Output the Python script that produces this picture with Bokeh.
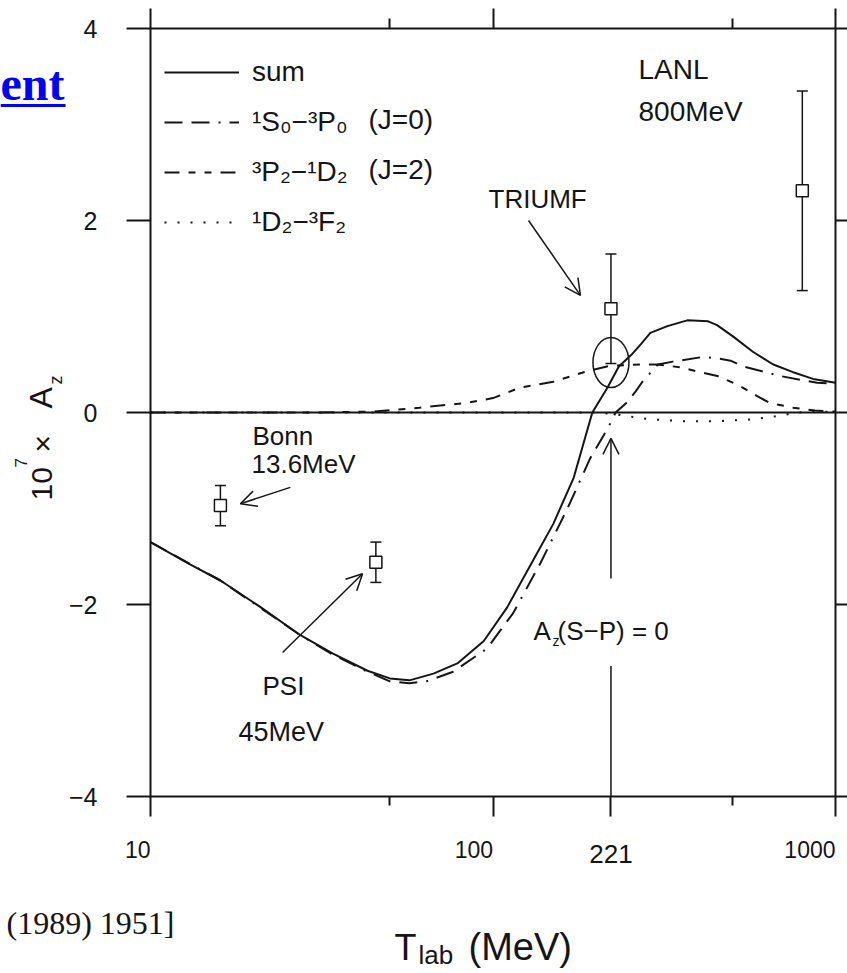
import math
from bokeh.plotting import figure
from bokeh.models import (Range1d, LogAxis, LinearAxis, FixedTicker, Label, Arrow, OpenHead,
                          Whisker, TeeHead, ColumnDataSource, Legend, LegendItem,
                          PrintfTickFormatter)
from bokeh.embed import file_html
from bokeh.resources import INLINE

# ---------------- data ----------------
sum_T = [10, 13, 16, 21, 27.4, 34, 43, 50, 57, 67, 79, 94, 110, 131, 150, 172, 195,
         216, 233, 255, 270, 288, 323, 369, 425, 451, 503, 575, 658, 752, 860, 1000]
sum_Az = [-1.35, -1.58, -1.75, -2.03, -2.32, -2.51, -2.69, -2.77, -2.79, -2.72, -2.61, -2.38,
          -2.03, -1.54, -1.16, -0.68, 0.0, 0.26, 0.48, 0.61, 0.71, 0.83, 0.90, 0.96, 0.95,
          0.91, 0.79, 0.63, 0.50, 0.42, 0.35, 0.31]

j0_T = [10, 16, 27.4, 34, 43, 50, 57, 64, 76.5, 96, 114.5, 137.5, 165, 192, 216, 228,
        245, 261, 273, 303, 335, 412, 460, 494, 537, 610, 690, 791, 884, 1000]
j0_Az = [-1.35, -1.75, -2.32, -2.52, -2.70, -2.80, -2.82, -2.80, -2.70, -2.46, -2.09, -1.57,
         -1.00, -0.48, -0.17, 0.0, 0.10, 0.22, 0.32, 0.50, 0.53, 0.58, 0.56, 0.54, 0.48,
         0.43, 0.38, 0.34, 0.31, 0.30]

j2_T = [10, 30, 45, 61, 84, 100, 120, 150, 188, 215, 230, 272, 302, 354, 402, 452, 518,
        591, 642, 752, 870, 1000]
j2_Az = [0.0, 0.0, 0.01, 0.05, 0.10, 0.15, 0.26, 0.32, 0.43, 0.48, 0.49, 0.50, 0.50, 0.47,
         0.42, 0.38, 0.29, 0.17, 0.10, 0.05, 0.02, 0.01]

d2_T = [10, 100, 200, 230, 261, 288, 320, 360, 450, 520, 575, 640, 700, 760, 1000]
d2_Az = [0.0, 0.0, 0.0, -0.02, -0.05, -0.07, -0.08, -0.09, -0.09, -0.08, -0.07, -0.05,
         -0.03, 0.0, 0.01]

exp_names = ["Bonn", "PSI", "TRIUMF", "LANL"]
exp_T = [16, 45.5, 221, 800]
exp_Az = [-0.97, -1.56, 1.08, 2.31]
exp_err = [0.21, 0.21, 0.57, 1.04]

x_lim = [10, 1000]
y_lim = [-4, 4]
x_ticks = [10, 100, 221, 1000]
x_tick_labels = ["10", "100", "221", "1000"]
x_minor = [50, 500]
y_ticks = [-4, -2, 0, 2, 4]
legend_labels = ["sum", "¹S₀−³P₀", "³P₂−¹D₂", "¹D₂−³F₂"]

# ---------------- figure: the frame covers the whole page ----------------
W, H = 847, 973
FL, FR, FT, FB = 150, 835, 28, 796          # where the axes box sits on the page
INK = "#151515"
SANS = "Liberation Sans"

dec = (FR - FL) / math.log10(x_lim[1] / x_lim[0])
unit = (FB - FT) / (y_lim[1] - y_lim[0])
x_range = Range1d(x_lim[0] * 10 ** (-FL / dec), x_lim[1] * 10 ** ((W - FR) / dec))
y_range = Range1d(y_lim[0] - (H - FB) / unit, y_lim[1] + FT / unit)

p = figure(width=W, height=H, x_axis_type="log", x_range=x_range, y_range=y_range,
           x_axis_location=None, y_axis_location=None,
           output_backend="svg", toolbar_location=None, min_border=0)
p.outline_line_color = None
p.grid.visible = False


def style_axis(ax, tick_out, minor_out=0, label_size="1px", standoff=0):
    ax.axis_line_width = 2
    ax.axis_line_color = INK
    ax.major_tick_line_width = 2
    ax.major_tick_line_color = INK
    ax.minor_tick_line_width = 2
    ax.minor_tick_line_color = INK
    ax.major_tick_in = 0
    ax.major_tick_out = tick_out
    ax.minor_tick_in = 0
    ax.minor_tick_out = minor_out
    ax.major_label_text_font = SANS
    ax.major_label_text_font_size = label_size
    ax.major_label_text_color = INK
    ax.major_label_standoff = standoff
    ax.axis_label_standoff = 0


xb = LogAxis(ticker=FixedTicker(ticks=x_ticks, minor_ticks=x_minor),
             formatter=PrintfTickFormatter(format=" "),
             fixed_location=y_lim[0], bounds=tuple(x_lim))
style_axis(xb, 20, 9)
p.add_layout(xb, "below")

xt = LogAxis(ticker=FixedTicker(ticks=[10, 100, 1000], minor_ticks=x_minor),
             formatter=PrintfTickFormatter(format=" "),
             fixed_location=y_lim[1], bounds=tuple(x_lim))
style_axis(xt, 20, 10)
p.add_layout(xt, "above")

yl = LinearAxis(ticker=FixedTicker(ticks=y_ticks), fixed_location=x_lim[0],
                bounds=tuple(y_lim))
style_axis(yl, 24, 0, "25px", 29)
p.add_layout(yl, "left")

yr = LinearAxis(ticker=FixedTicker(ticks=y_ticks), formatter=PrintfTickFormatter(format=" "),
                fixed_location=x_lim[1], bounds=tuple(y_lim))
style_axis(yr, 12)
p.add_layout(yr, "right")

# zero line across the box
p.segment(x0=[x_lim[0]], y0=[0], x1=[x_lim[1]], y1=[0], line_color=INK, line_width=2)

# ---------------- curves ----------------
r_sum = p.line(sum_T, sum_Az, line_color=INK, line_width=2)
r_j0 = p.line(j0_T, j0_Az, line_color=INK, line_width=2, line_dash="18 9 18 9 2 9")
r_j2 = p.line(j2_T, j2_Az, line_color=INK, line_width=2, line_dash="15 9 7 9 7 9")
r_d2 = p.line(d2_T, d2_Az, line_color=INK, line_width=2, line_dash="2 11")

legend = Legend(items=[LegendItem(label=t, renderers=[r]) for t, r in
                       zip(legend_labels, [r_sum, r_j0, r_j2, r_d2])],
                location=(164, H - 245), margin=0, padding=0, spacing=4,
                glyph_width=75, glyph_height=46, label_height=46, label_standoff=13,
                label_text_font=SANS, label_text_font_size="28px", label_text_color=INK,
                border_line_color=None, background_fill_alpha=0)
p.add_layout(legend)

# ---------------- experimental points ----------------
src = ColumnDataSource(dict(x=exp_T, y=exp_Az,
                            lo=[a - e for a, e in zip(exp_Az, exp_err)],
                            hi=[a + e for a, e in zip(exp_Az, exp_err)]))
wh = Whisker(source=src, base="x", lower="lo", upper="hi", line_color=INK, line_width=1.5,
             upper_head=TeeHead(size=11, line_color=INK, line_width=1.5),
             lower_head=TeeHead(size=11, line_color=INK, line_width=1.5), level="underlay")
p.add_layout(wh)
p.scatter("x", "y", source=src, marker="square", size=12, fill_color="white",
          line_color=INK, line_width=1.5)

p.ellipse(x=[221], y=[0.52], width=36, height=50, width_units="screen",
          height_units="screen", fill_color=None, line_color=INK, line_width=1.5)

# ---------------- arrows ----------------
def arrow(x0, y0, x1, y1, head=True):
    p.add_layout(Arrow(x_start=x0, y_start=y0, x_end=x1, y_end=y1, line_color=INK,
                       line_width=1.5,
                       end=OpenHead(size=16, line_color=INK, line_width=1.5) if head else None))

arrow(127, 2.0, 180, 1.22)        # TRIUMF
arrow(25.6, -0.78, 18.3, -0.95)   # Bonn
arrow(24.3, -2.5, 41.6, -1.68)    # PSI
arrow(221, -1.73, 221, -0.27)     # Az(S-P)=0
arrow(221, -2.64, 221, -4, head=False)

# ---------------- texts ----------------
def shift(size):
    return 0.38 * size


def label(text, cx, cy, size, font=SANS, align="left", angle=0, color=INK, style="normal",
          x_data=False):
    off = shift(size)
    if angle:
        sx, sy = cx - off, H - cy
    else:
        sx, sy = cx, H - (cy - off)
    p.add_layout(Label(x=sx, y=sy, x_units="data" if x_data else "screen", y_units="screen",
                       text=text, text_font=font, text_font_size=f"{size}px",
                       text_align=align, text_baseline="alphabetic", angle=angle,
                       text_color=color, text_font_style=style))

# x tick labels (right-aligned on their tick, 221 centred)
for t, s in zip(x_ticks, x_tick_labels):
    if s == "221":
        label(s, t, 863, 26, align="center", x_data=True)
    else:
        label(s, t, 858, 23, align="right", x_data=True)

label("(J=0)", 368, 130, 28)
label("(J=2)", 368, 180, 28)
label("LANL", 638, 80, 28)
label("800MeV", 638, 122, 28)
label("TRIUMF", 488, 208, 26)
label("Bonn", 252, 445, 26)
label("13.6MeV", 251, 473, 26)
label("PSI", 262, 695, 26)
label("45MeV", 238, 742, 27)
label("A", 533, 640, 26)
label("z", 552, 646, 14)
label("(S−P)  =  0", 557, 640, 26)

# x axis title
label("T", 394, 961, 36)
label("lab", 418, 964, 26)
label("(MeV)", 468, 961, 38)

# y axis title: 10^7 x A_z (rotated)
R = math.pi / 2
label("10", 53, 500, 30, angle=R)
label("7", 27, 467, 17, angle=R)
label("×", 53, 452, 30, angle=R)
label("A", 53, 408, 32, angle=R)
label("z", 62, 384, 18, angle=R)

# slide fragments around the scanned figure
label("ent", 64, 101, 48, font="Liberation Serif", align="right", color="#0000FF",
      style="bold")
p.add_layout(Arrow(x_start=0, y_start=H - 105, x_end=65, y_end=H - 105,
                   start_units="screen", end_units="screen", end=None,
                   line_color="#0000FF", line_width=3))
label("(1989) 1951]", 174, 935, 32, font="Liberation Serif", align="right")

open("out.html", "w").write(file_html(p, INLINE))
